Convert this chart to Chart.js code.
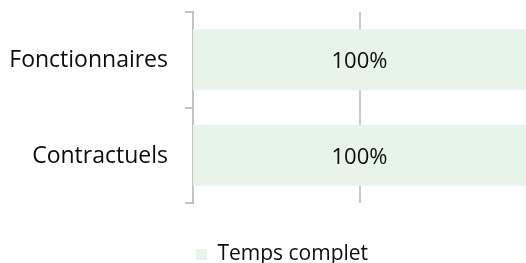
<!DOCTYPE html>
<html>
<head>
<meta charset="utf-8">
<script src="https://cdn.jsdelivr.net/npm/chart.js@4/dist/chart.umd.min.js"></script>
<style>
html,body{margin:0;padding:0;background:#fff;overflow:hidden;}
#wrap{width:526px;height:263px;position:relative;}
</style>
</head>
<body>
<div id="wrap"><canvas id="c" width="526" height="263"></canvas></div>
<script>
const categories = ['Fonctionnaires', 'Contractuels'];
const seriesName = 'Temps complet';
const tempsComplet = [100, 100];
const xMin = 0;
const xMax = 100;
const xGridValues = [50];

const FONT = "'Open Sans', sans-serif";
const BAR_COLOR = '#e6f4ea';
const AXIS_COLOR = '#c3c3c3';

const valueLabels = {
  id: 'valueLabels',
  afterDatasetsDraw(chart) {
    const ctx = chart.ctx;
    ctx.save();
    ctx.font = '22px ' + FONT;
    ctx.fillStyle = '#0d0d0d';
    ctx.textAlign = 'center';
    ctx.textBaseline = 'middle';
    chart.data.datasets.forEach((ds, di) => {
      const meta = chart.getDatasetMeta(di);
      meta.data.forEach((bar, i) => {
        const x0 = chart.scales.x.getPixelForValue(xMin);
        const cx = (x0 + bar.x) / 2;
        ctx.fillText(ds.data[i] + '%', cx, bar.y + 2);
      });
    });
    ctx.restore();
  }
};

const legendShift = {
  id: 'legendShift',
  afterLayout(chart) {
    const lg = chart.legend;
    if (lg) { lg.left += 19; lg.right += 19; }
  }
};

new Chart(document.getElementById('c'), {
  type: 'bar',
  data: {
    labels: categories,
    datasets: [{
      label: seriesName,
      data: tempsComplet,
      backgroundColor: BAR_COLOR,
      borderWidth: 0,
      barPercentage: 0.64,
      categoryPercentage: 1.0
    }]
  },
  options: {
    indexAxis: 'y',
    responsive: false,
    animation: false,
    devicePixelRatio: 1,
    layout: { padding: { top: 12, bottom: -12, left: 0, right: 0 } },
    plugins: {
      legend: {
        position: 'bottom',
        labels: {
          font: { family: FONT, size: 21 },
          color: '#0d0d0d',
          boxWidth: 11,
          boxHeight: 11,
          padding: 10
        }
      },
      tooltip: { enabled: false }
    },
    scales: {
      x: {
        type: 'linear',
        min: xMin,
        max: xMax,
        afterBuildTicks(scale) {
          scale.ticks = xGridValues.map(v => ({ value: v }));
        },
        ticks: { display: false },
        border: { display: false },
        grid: {
          color: '#cccccc',
          lineWidth: 2,
          drawTicks: false
        },
        afterFit(scale) { scale.height = 31; scale.paddingLeft = 0; scale.paddingRight = 0; }
      },
      y: {
        type: 'category',
        offset: true,
        border: { display: true, color: AXIS_COLOR, width: 2 },
        grid: {
          offset: true,
          drawOnChartArea: false,
          drawTicks: true,
          tickLength: 8,
          color: AXIS_COLOR,
          lineWidth: 2
        },
        ticks: {
          font: { family: FONT, size: 23 },
          color: '#0d0d0d',
          padding: 17,
          labelOffset: 1
        },
        afterFit(scale) { scale.width = 193; scale.paddingTop = 0; scale.paddingBottom = 0; }
      }
    }
  },
  plugins: [valueLabels, legendShift]
});
</script>
</body>
</html>
